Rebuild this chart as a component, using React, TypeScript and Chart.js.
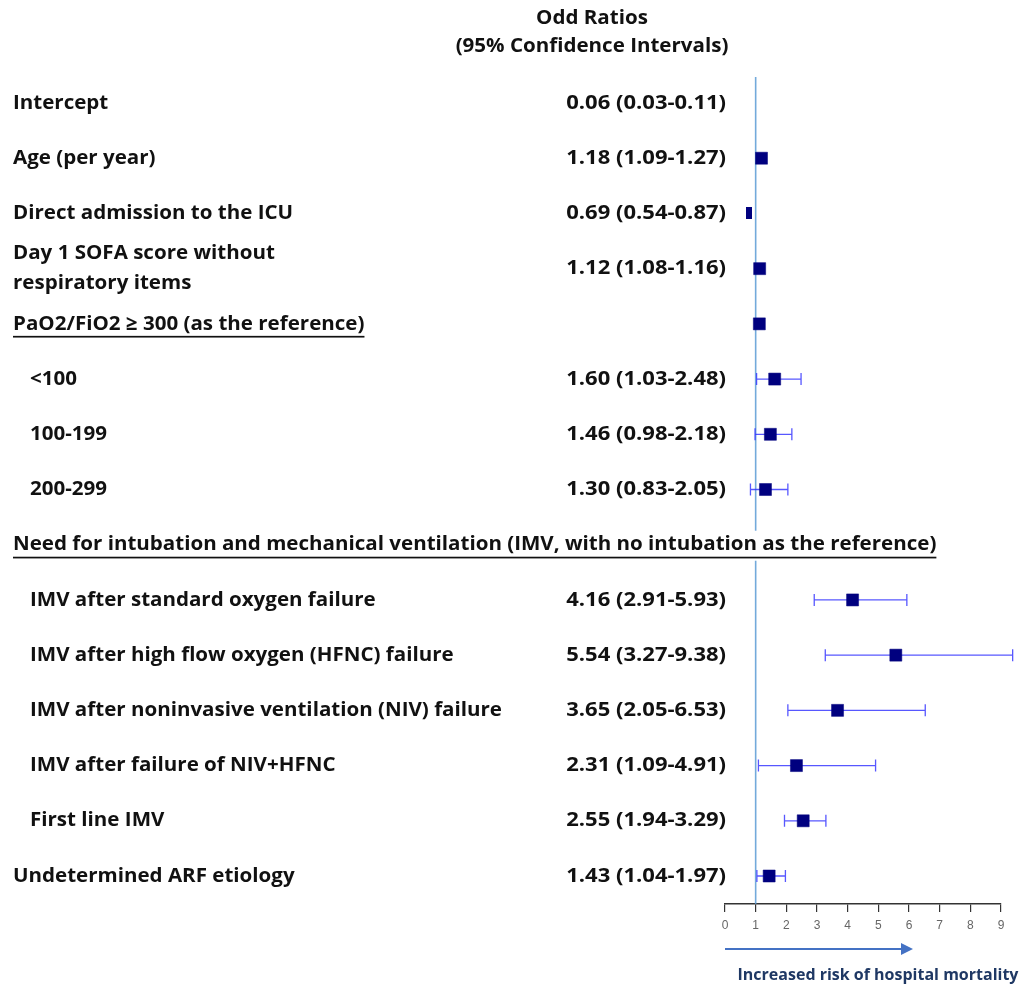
import React, { useEffect, useRef } from 'react';
import { Chart, registerables } from 'chart.js';

Chart.register(...registerables);

// ---------- data ----------
const titleLines = ['Odd Ratios', '(95% Confidence Intervals)'];

const rowLabels = [
  'Intercept',
  'Age (per year)',
  'Direct admission to the ICU',
  'Day 1 SOFA score without\nrespiratory items',
  'PaO2/FiO2 \u2265 300 (as the reference)',
  '<100',
  '100-199',
  '200-299',
  'Need for intubation and mechanical ventilation (IMV, with no intubation as the reference)',
  'IMV after standard oxygen failure',
  'IMV after high flow oxygen (HFNC) failure',
  'IMV after noninvasive ventilation (NIV) failure',
  'IMV after failure of NIV+HFNC',
  'First line IMV',
  'Undetermined ARF etiology',
];

// 'item' = top-level row, 'sub' = indented row, 'header' = underlined group heading
const rowKinds = [
  'item', 'item', 'item', 'item', 'header', 'sub', 'sub', 'sub',
  'header', 'sub', 'sub', 'sub', 'sub', 'sub', 'item',
];

const orTexts = [
  '0.06 (0.03-0.11)',
  '1.18 (1.09-1.27)',
  '0.69 (0.54-0.87)',
  '1.12 (1.08-1.16)',
  '',
  '1.60 (1.03-2.48)',
  '1.46 (0.98-2.18)',
  '1.30 (0.83-2.05)',
  '',
  '4.16 (2.91-5.93)',
  '5.54 (3.27-9.38)',
  '3.65 (2.05-6.53)',
  '2.31 (1.09-4.91)',
  '2.55 (1.94-3.29)',
  '1.43 (1.04-1.97)',
];

// marker positions as drawn in the plot
const markerOR: (number | null)[] = [
  null, 1.19, 0.78, 1.13, 1.12, 1.62, 1.48, 1.32, null, 4.16, 5.57, 3.67, 2.33, 2.55, 1.44,
];
// visible confidence-interval whiskers
const ciLow: (number | null)[] = [
  null, null, null, null, null, 1.03, 0.98, 0.83, null, 2.91, 3.27, 2.05, 1.09, 1.94, 1.04,
];
const ciHigh: (number | null)[] = [
  null, null, null, null, null, 2.48, 2.18, 2.05, null, 5.93, 9.38, 6.53, 4.91, 3.29, 1.97,
];
// rows whose marker is drawn as a narrow bar
const narrowMarkerRows = [2];

const xTicks = [0, 1, 2, 3, 4, 5, 6, 7, 8, 9];
const referenceOR = 1;
const arrowEnd = 6.13;
const arrowCaption = 'Increased risk of hospital mortality';

// ---------- style ----------
const FONT = '"Open Sans"';
const LABEL_FONT = `bold 20px ${FONT}`;
const LABEL_SX = 1.027;
const NUM_SX = 1.1;

function drawText(ctx: CanvasRenderingContext2D, text: string, x: number, y: number, align: CanvasTextAlign, sx: number) {
  ctx.save();
  ctx.translate(x, y);
  ctx.scale(sx, 1);
  ctx.textAlign = align;
  ctx.fillText(text, 0, 0);
  ctx.restore();
}

const forestPlugin = {
  id: 'forest',
  beforeDatasetsDraw(chart: any) {
    const { ctx, chartArea, scales } = chart;
    const x = scales.x;
    const y = scales.y;
    ctx.save();
    // reference line
    const rx = x.getPixelForValue(referenceOR);
    ctx.strokeStyle = 'rgba(91,155,213,0.85)';
    ctx.lineWidth = 1.6;
    ctx.beginPath();
    ctx.moveTo(rx, chartArea.top);
    ctx.lineTo(rx, chartArea.bottom);
    ctx.stroke();
    // CI whiskers
    ctx.strokeStyle = 'rgba(45,45,255,0.8)';
    ctx.lineWidth = 1.3;
    for (let i = 0; i < rowLabels.length; i++) {
      const lo = ciLow[i];
      const hi = ciHigh[i];
      if (lo == null || hi == null) continue;
      const yy = y.getPixelForValue(i);
      const x1 = x.getPixelForValue(lo);
      const x2 = x.getPixelForValue(hi);
      ctx.beginPath();
      ctx.moveTo(x1, yy);
      ctx.lineTo(x2, yy);
      ctx.moveTo(x1, yy - 6);
      ctx.lineTo(x1, yy + 6);
      ctx.moveTo(x2, yy - 6);
      ctx.lineTo(x2, yy + 6);
      ctx.stroke();
    }
    ctx.restore();
  },
  afterDraw(chart: any) {
    const { ctx, chartArea, scales } = chart;
    const x = scales.x;
    const y = scales.y;
    ctx.save();
    ctx.fillStyle = '#111';
    ctx.font = LABEL_FONT;
    ctx.textBaseline = 'middle';

    // title
    titleLines.forEach((t, k) => drawText(ctx, t, 592, 18 + k * 28, 'center', LABEL_SX));

    for (let i = 0; i < rowLabels.length; i++) {
      const yy = y.getPixelForValue(i);
      const kind = rowKinds[i];
      const lx = kind === 'sub' ? 30 : 13;
      const lines = rowLabels[i].split('\n');
      if (kind === 'header') {
        const w = ctx.measureText(lines[0]).width * LABEL_SX;
        ctx.fillStyle = '#fff';
        ctx.fillRect(lx, yy - 14, w, 30);
        ctx.fillStyle = '#111';
        drawText(ctx, lines[0], lx, yy, 'left', LABEL_SX);
        ctx.fillRect(lx, yy + 12, w, 1.7);
      } else {
        lines.forEach((ln, k) => {
          drawText(ctx, ln, lx, yy + (k - (lines.length - 1) / 2) * 30, 'left', LABEL_SX);
        });
      }
      if (orTexts[i]) {
        drawText(ctx, orTexts[i], chartArea.left + 1, yy, 'right', NUM_SX);
      }
    }

    // arrow
    const ay = chartArea.bottom + 45;
    const ax0 = x.getPixelForValue(0);
    const ax1 = x.getPixelForValue(arrowEnd);
    ctx.strokeStyle = '#4472c4';
    ctx.fillStyle = '#4472c4';
    ctx.lineWidth = 2;
    ctx.beginPath();
    ctx.moveTo(ax0, ay);
    ctx.lineTo(ax1 - 10, ay);
    ctx.stroke();
    ctx.beginPath();
    ctx.moveTo(ax1, ay);
    ctx.lineTo(ax1 - 12, ay - 6);
    ctx.lineTo(ax1 - 12, ay + 6);
    ctx.closePath();
    ctx.fill();

    ctx.fillStyle = '#1f3864';
    ctx.font = `bold 16px ${FONT}`;
    drawText(ctx, arrowCaption, 878, ay + 26, 'center', 1);
    ctx.restore();
  },
};

export default function App() {
  const ref = useRef<HTMLCanvasElement | null>(null);

  useEffect(() => {
    if (!ref.current) return;
    const narrow = document.createElement('canvas');
    narrow.width = 6;
    narrow.height = 12;
    const nctx = narrow.getContext('2d')!;
    nctx.fillStyle = '#00007f';
    nctx.fillRect(0, 0, 6, 12);

    const points: { x: number; y: number }[] = [];
    const styles: any[] = [];
    markerOR.forEach((v, i) => {
      if (v == null) return;
      points.push({ x: v, y: i });
      styles.push(narrowMarkerRows.includes(i) ? narrow : 'rect');
    });

    const chart = new Chart(ref.current, {
      type: 'scatter',
      data: {
        datasets: [
          {
            data: points,
            pointStyle: styles,
            pointRadius: 8.5,
            pointBackgroundColor: '#00007f',
            pointBorderColor: '#00007f',
            pointBorderWidth: 0.5,
            clip: false,
          } as any,
        ],
      },
      options: {
        animation: false,
        responsive: false,
        devicePixelRatio: 1,
        layout: { padding: { left: 725, right: 20, top: 77, bottom: 0 } },
        plugins: { legend: { display: false }, tooltip: { enabled: false } },
        scales: {
          x: {
            type: 'linear',
            position: 'bottom',
            min: 0,
            max: 9,
            afterBuildTicks: (axis: any) => {
              axis.ticks = xTicks.map((v) => ({ value: v }));
            },
            afterFit: (axis: any) => {
              axis.height = 84;
            },
            grid: {
              drawOnChartArea: false,
              drawTicks: true,
              tickLength: 8,
              color: '#333',
              lineWidth: 1.2,
            },
            border: { color: '#333', width: 1.5 },
            ticks: {
              color: '#666',
              padding: 6,
              font: { family: 'Liberation Sans', size: 12 },
              callback: (v: any) => String(v),
            },
          },
          y: {
            type: 'linear',
            display: false,
            reverse: true,
            min: -0.471,
            max: 14.507,
          },
        },
      },
      plugins: [forestPlugin],
    });
    return () => chart.destroy();
  }, []);

  return (
    <div style={{ position: 'absolute', left: 0, top: 0, width: 1021, height: 988, background: '#fff' }}>
      <canvas ref={ref} width={1021} height={988} style={{ display: 'block' }} />
    </div>
  );
}
